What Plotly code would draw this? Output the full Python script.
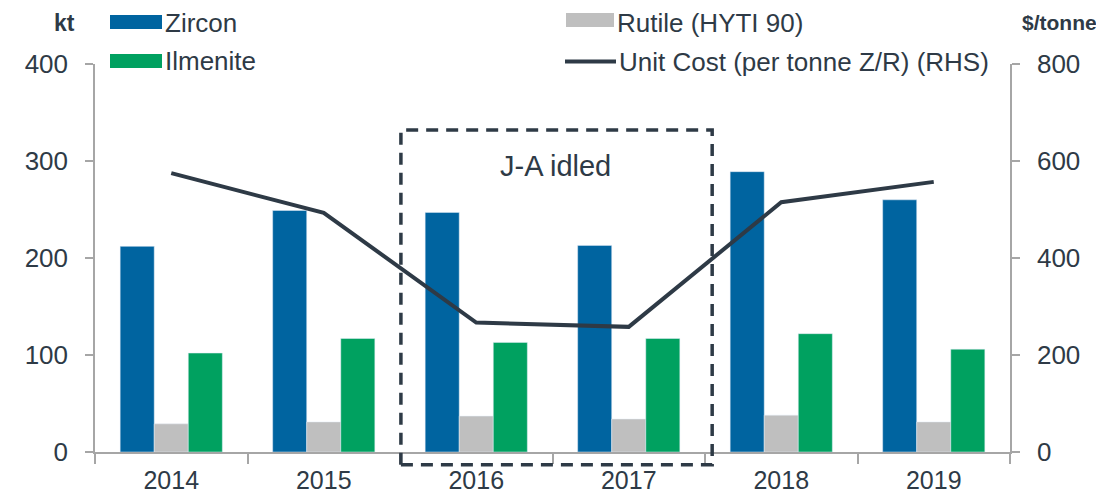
import plotly.graph_objects as go

years = ["2014", "2015", "2016", "2017", "2018", "2019"]
zircon = [212, 249, 247, 213, 289, 260]
rutile = [29, 31, 37, 34, 38, 31]
ilmenite = [102, 117, 113, 117, 122, 106]
unit_cost = [575, 493, 267, 258, 515, 557]

series_names = ["Zircon", "Rutile (HYTI 90)", "Ilmenite", "Unit Cost (per tonne Z/R) (RHS)"]
left_ticks = [0, 100, 200, 300, 400]
right_ticks = [0, 200, 400, 600, 800]

C_ZIR = "#0064A0"
C_RUT = "#BFBFBF"
C_ILM = "#00A160"
C_LINE = "#2E3A46"
TXT = "#2E3A46"
AX = "#A6A6A6"
FONT = "Liberation Sans, Arial, sans-serif"
TICK_SIZE = 26

fig = go.Figure()
fig.add_trace(go.Bar(x=years, y=zircon, name=series_names[0], marker_color=C_ZIR, showlegend=False))
fig.add_trace(go.Bar(x=years, y=rutile, name=series_names[1], marker_color=C_RUT, showlegend=False))
fig.add_trace(go.Bar(x=years, y=ilmenite, name=series_names[2], marker_color=C_ILM, showlegend=False))
fig.add_trace(go.Scatter(x=years, y=unit_cost, name=series_names[3], mode="lines",
                         line=dict(color=C_LINE, width=4), yaxis="y2", showlegend=False))

# page body has an 8px margin; compensate so the figure lands on the 1104x497 window
OFF = 8
W, H = 1104 - OFF, 497 - OFF
PL, PR, PT, PB = 95, 1010, 64, 452.3   # plot area in window pixels
L, T = PL - OFF, PT - OFF
R = W - (PR - OFF)
B = H - (PB - OFF)
pw, ph = PR - PL, PB - PT


def px(x):
    return (x - PL) / pw


def py(y):
    return (PB - y) / ph


shapes = []
annotations = []
# custom legend: (kind, colour, label, swatch x0, swatch x1, swatch y, text y)
legend_items = [
    ("bar", C_ZIR, series_names[0], 110, 162, 22, 23),
    ("bar", C_ILM, series_names[2], 110, 162, 61, 61),
    ("bar", C_RUT, series_names[1], 566, 614, 20, 23),
    ("line", C_LINE, series_names[3], 565, 616, 61.5, 61.5),
]
for kind, col, name, x0, x1, yc, yt in legend_items:
    if kind == "bar":
        shapes.append(dict(type="rect", xref="paper", yref="paper",
                           x0=px(x0), x1=px(x1), y0=py(yc + 7), y1=py(yc - 7),
                           fillcolor=col, line=dict(width=0)))
    else:
        shapes.append(dict(type="line", xref="paper", yref="paper",
                           x0=px(x0), x1=px(x1), y0=py(yc), y1=py(yc),
                           line=dict(color=col, width=4)))
    annotations.append(dict(xref="paper", yref="paper", x=px(x1 + 2), y=py(yt),
                            xanchor="left", yanchor="middle", text=name, showarrow=False,
                            borderpad=0, font=dict(size=26, color=TXT, family=FONT)))

annotations.append(dict(xref="paper", yref="paper", x=px(64), y=py(23), text="<b>kt</b>",
                        showarrow=False, xanchor="center", yanchor="middle",
                        font=dict(size=23, color=TXT, family=FONT)))
annotations.append(dict(xref="paper", yref="paper", x=px(1059), y=py(22), text="<b>$/tonne</b>",
                        showarrow=False, xanchor="center", yanchor="middle",
                        font=dict(size=21, color=TXT, family=FONT)))

# dashed box for J-A idled period
shapes.append(dict(type="rect", xref="x", yref="paper", x0=1.506, x1=3.547,
                   y0=py(465), y1=py(130), line=dict(color=C_LINE, width=3.5, dash="12px,8px"),
                   fillcolor="rgba(0,0,0,0)", layer="above"))
annotations.append(dict(xref="x", yref="paper", x=2.518, y=py(166.5), text="J-A idled",
                        showarrow=False, xanchor="center", yanchor="middle",
                        font=dict(size=29, color=TXT, family=FONT)))

fig.update_layout(
    width=W, height=H,
    margin=dict(l=L, r=R, t=T, b=B, pad=0, autoexpand=False),
    paper_bgcolor="white", plot_bgcolor="white",
    barmode="group", bargap=0.33, bargroupgap=0,
    font=dict(family=FONT, color=TXT, size=TICK_SIZE),
    shapes=shapes, annotations=annotations,
    xaxis=dict(type="category", showline=True, linecolor=AX, linewidth=1.5, automargin=False,
               ticks="outside", tickson="boundaries", ticklen=10, tickcolor=AX, tickwidth=1.5,
               tickfont=dict(size=25, color=TXT), showgrid=False, ticklabelstandoff=5),
    yaxis=dict(range=[0, 400], tickvals=left_ticks, showline=True, linecolor=AX, linewidth=1.5,
               automargin=False, ticks="outside", ticklen=8, tickcolor=AX, tickwidth=1.5,
               showgrid=False, zeroline=False, tickfont=dict(size=TICK_SIZE, color=TXT),
               ticklabelstandoff=12),
    yaxis2=dict(range=[0, 800], tickvals=right_ticks, overlaying="y", side="right",
                showline=True, linecolor=AX, linewidth=1.5, automargin=False, ticks="outside",
                ticklen=8, tickcolor=AX, tickwidth=1.5, showgrid=False, zeroline=False,
                tickfont=dict(size=TICK_SIZE, color=TXT), ticklabelstandoff=12),
)

fig.write_html("out.html")
